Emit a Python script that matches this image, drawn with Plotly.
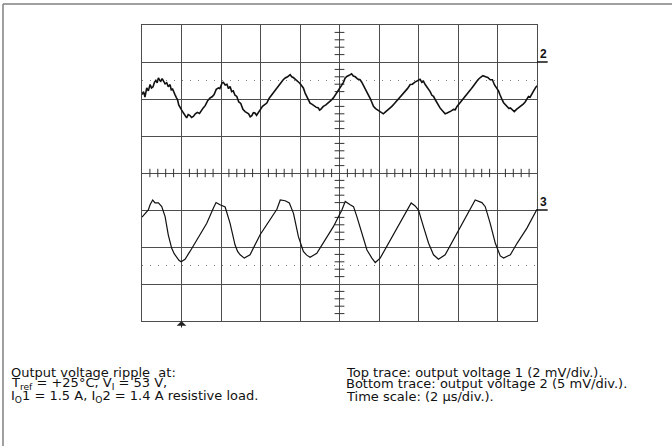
import numpy as np
import plotly.graph_objects as go

# Time axis in microseconds (2 us/div, 10 divisions); vertical axis in screen divisions (8 div)
top_t = [0.0, 0.08, 0.15, 0.24, 0.32, 0.41, 0.48, 0.56, 0.63, 0.70, 0.77, 0.83, 0.90, 0.95, 1.02, 1.08, 1.17,
         1.25, 1.33, 1.42, 1.48, 1.55, 1.61, 1.67, 1.74, 1.80, 1.86, 1.93, 2.01, 2.10, 2.18, 2.26,
         2.34, 2.42, 2.51, 2.60, 2.70, 2.80, 2.91, 3.02, 3.10, 3.20, 3.32, 3.45, 3.55, 3.65, 3.76, 3.87, 3.94,
         4.00, 4.06, 4.12, 4.21, 4.30, 4.38, 4.46, 4.54, 4.62, 4.71, 4.80, 4.90, 5.00, 5.11, 5.22, 5.31, 5.40,
         5.48, 5.56, 5.64, 5.72, 5.80, 5.89, 6.00, 6.10, 6.21, 6.32, 6.44, 6.55, 6.69, 6.83, 6.94, 7.05, 7.15,
         7.25, 7.37, 7.50, 7.58, 7.66, 7.75, 7.84, 7.92, 8.00, 8.08, 8.17, 8.26, 8.35, 8.43, 8.51, 8.60, 8.70,
         8.81, 8.93, 8.99, 9.05, 9.11, 9.18, 9.31, 9.45, 9.57, 9.69, 9.77, 9.85, 9.94, 10.03, 10.11, 10.20,
         10.28, 10.37, 10.49, 10.61, 10.70, 10.80, 10.92, 11.04, 11.12, 11.20, 11.29, 11.38, 11.46, 11.55,
         11.63, 11.72, 11.83, 11.95, 12.08, 12.22, 12.33, 12.45, 12.55, 12.65, 12.75, 12.85, 12.96, 13.07,
         13.18, 13.30, 13.44, 13.58, 13.69, 13.80, 13.90, 14.00, 14.08, 14.17, 14.25, 14.34, 14.42, 14.50,
         14.59, 14.68, 14.76, 14.85, 14.93, 15.01, 15.09, 15.18, 15.26, 15.35, 15.45, 15.55, 15.66, 15.77,
         15.86, 15.95, 16.03, 16.11, 16.23, 16.35, 16.48, 16.62, 16.76, 16.90, 17.01, 17.13, 17.26, 17.40,
         17.51, 17.63, 17.74, 17.85, 17.95, 18.05, 18.12, 18.18, 18.25, 18.31, 18.40, 18.50, 18.58, 18.65,
         18.75, 18.85, 18.96, 19.07, 19.18, 19.30, 19.40, 19.49, 19.57, 19.65, 19.74, 19.83, 19.92, 20.0]
top_v = [2.12, 2.20, 2.05, 2.30, 2.22, 2.39, 2.30, 2.33, 2.45, 2.50, 2.44, 2.57, 2.50, 2.48, 2.55, 2.50, 2.41,
         2.44, 2.33, 2.39, 2.25, 2.27, 2.16, 2.12, 2.04, 1.98, 1.84, 1.76, 1.70, 1.62, 1.55, 1.49,
         1.58, 1.56, 1.50, 1.53, 1.60, 1.64, 1.61, 1.71, 1.76, 1.82, 1.95, 2.03, 2.06, 2.12, 2.26, 2.30, 2.28,
         2.36, 2.44, 2.45, 2.38, 2.40, 2.28, 2.34, 2.20, 2.22, 2.10, 2.07, 1.92, 1.88, 1.72, 1.66, 1.62, 1.60,
         1.52, 1.55, 1.63, 1.62, 1.56, 1.62, 1.72, 1.80, 1.84, 1.89, 2.02, 2.10, 2.18, 2.30, 2.36, 2.44, 2.52,
         2.57, 2.60, 2.66, 2.60, 2.58, 2.54, 2.52, 2.46, 2.42, 2.36, 2.30, 2.16, 2.05, 1.98, 1.89, 1.86, 1.82,
         1.78, 1.76, 1.70, 1.72, 1.77, 1.80, 1.84, 1.90, 1.96, 2.03, 2.10, 2.15, 2.24, 2.34, 2.38, 2.45,
         2.56, 2.61, 2.64, 2.68, 2.62, 2.60, 2.54, 2.52, 2.46, 2.38, 2.30, 2.21, 2.14, 2.02, 1.92,
         1.80, 1.74, 1.70, 1.64, 1.60, 1.65, 1.70, 1.74, 1.80, 1.86, 1.92, 2.00, 2.07, 2.12,
         2.20, 2.28, 2.39, 2.40, 2.45, 2.48, 2.50, 2.53, 2.45, 2.48, 2.39, 2.33, 2.24, 2.20,
         2.10, 2.07, 1.98, 1.90, 1.82, 1.76, 1.70, 1.66, 1.60, 1.62, 1.66, 1.68, 1.72, 1.71,
         1.80, 1.85, 1.92, 1.98, 2.06, 2.15, 2.24, 2.34, 2.45, 2.52, 2.58, 2.63, 2.60, 2.58,
         2.52, 2.52, 2.38, 2.30, 2.22, 2.12, 2.02, 1.96, 1.90, 1.85, 1.80, 1.74, 1.76, 1.71,
         1.66, 1.72, 1.76, 1.80, 1.86, 1.92, 2.00, 2.07, 2.05, 2.15, 2.22, 2.30, 2.36, 2.43]

bot_t = [0.0, 0.15, 0.32, 0.41, 0.54, 0.66, 0.83, 1.00, 1.17, 1.33, 1.50, 1.63, 1.76, 1.87, 1.98, 2.18, 2.43,
         2.85, 3.28, 3.61, 3.75, 3.95, 4.21, 4.46, 4.71, 4.84, 4.97, 5.18, 5.47, 5.98, 6.49, 6.83, 7.00, 7.25,
         7.46, 7.67, 7.92, 8.17, 8.34, 8.51, 8.85, 9.27, 9.69, 10.12, 10.29, 10.54, 10.71, 10.88, 11.13, 11.39,
         11.64, 11.81, 12.06, 12.48, 12.99, 13.41, 13.63, 13.83, 14.00, 14.25, 14.51, 14.76, 14.89, 15.01,
         15.35, 15.86, 16.37, 16.71, 16.87, 17.21, 17.38, 17.63, 17.89, 18.14, 18.31, 18.65, 18.99, 19.49,
         19.91, 20.0]
bot_v = [-1.19, -1.09, -1.00, -0.86, -0.73, -0.81, -0.81, -0.91, -1.18, -1.67, -2.03, -2.18, -2.28, -2.36,
         -2.40, -2.33, -2.12, -1.76, -1.36, -0.95, -0.80, -0.86, -0.92, -1.36, -1.94, -2.12, -2.21, -2.30,
         -2.21, -1.67, -1.27, -0.98, -0.73, -0.75, -0.81, -1.09, -1.72, -2.12, -2.22, -2.28, -2.17, -1.81,
         -1.45, -1.00, -0.77, -0.86, -0.91, -1.18, -1.63, -2.08, -2.30, -2.42, -2.30, -1.90, -1.40, -1.00,
         -0.81, -0.89, -1.00, -1.45, -1.90, -2.21, -2.28, -2.33, -2.21, -1.72, -1.22, -0.91, -0.73, -0.80,
         -0.91, -1.36, -1.90, -2.24, -2.30, -2.21, -1.90, -1.49, -1.04, -0.98]

ref_levels = [2.5, -2.5]           # dotted reference levels (div)
channel_labels = ["2", "3"]
channel_marks = [3.0, -1.0]        # channel marker levels (div)
trigger_t = 2.0                    # trigger position (us)

left_lines = ["Output voltage ripple&nbsp;&nbsp;at:",
              "T<sub>ref</sub> = +25°C, V<sub>I</sub> = 53 V,",
              "I<sub>O</sub>1 = 1.5 A, I<sub>O</sub>2 = 1.4 A resistive load."]
right_lines = ["Top trace: output voltage 1 (2 mV/div.).",
               "Bottom trace: output voltage 2 (5 mV/div.).",
               "Time scale: (2 µs/div.)."]

GRID = "#4d4d4d"
FONT = "Liberation Sans, Arial, sans-serif"
TFONT = "DejaVu Sans, Liberation Sans, sans-serif"

W, H = 672, 446
ML, MR, MT, MB = 142, 135, 25, 125
PW, PH = W - ML - MR, H - MT - MB


def px(xp):
    return (xp - ML) / PW


def py(yp):
    return (H - MB - yp) / PH


fig = go.Figure()

# graticule minor ticks on centre lines
xt = [v for v in np.arange(0.4, 20.0, 0.4) if abs(v / 2 - round(v / 2)) > 1e-6]
yt = [v for v in np.arange(-3.8, 4.0, 0.2) if abs(v - round(v)) > 1e-6]
fig.add_trace(go.Scatter(x=xt, y=[0] * len(xt), mode="markers", hoverinfo="skip",
                         marker=dict(symbol="line-ns", size=6, line=dict(color="#333", width=1))))
fig.add_trace(go.Scatter(x=[10] * len(yt), y=yt, mode="markers", hoverinfo="skip",
                         marker=dict(symbol="line-ew", size=7, line=dict(color="#333", width=1))))

fig.add_trace(go.Scatter(x=top_t, y=top_v, mode="lines", line=dict(color="#111", width=1.6)))
fig.add_trace(go.Scatter(x=bot_t, y=bot_v, mode="lines", line=dict(color="#111", width=1.2)))

for lv in ref_levels:
    fig.add_shape(type="line", xref="x", yref="y", x0=0, x1=20, y0=lv, y1=lv,
                  line=dict(color="#808080", width=1, dash="1px,7px"))

for lab, lv in zip(channel_labels, channel_marks):
    fig.add_annotation(x=20, y=lv, xref="x", yref="y", text="<b>" + lab + "</b>", showarrow=False,
                       xanchor="left", yanchor="bottom", xshift=1, yshift=-1,
                       font=dict(family=FONT, size=12, color="#111"))
    fig.add_shape(type="line", xref="paper", yref="y", x0=1.0, x1=1.027, y0=lv, y1=lv,
                  line=dict(color="#111", width=1.5))

# trigger arrow
fig.add_annotation(x=trigger_t, y=-4, xref="x", yref="y", text="", showarrow=True, ax=0, ay=8,
                   arrowhead=1, arrowsize=1.6, arrowwidth=1, arrowcolor="#222")

# outer frame (top and left only)
fig.add_shape(type="line", xref="paper", yref="paper", x0=px(3), x1=px(680), y0=py(4), y1=py(4),
              line=dict(color="#808080", width=1.5))
fig.add_shape(type="line", xref="paper", yref="paper", x0=px(3), x1=px(3), y0=py(4), y1=py(450),
              line=dict(color="#808080", width=1.5))

ys = [372, 384, 396]
for i, t in enumerate(left_lines):
    fig.add_annotation(x=px(9), y=py(ys[i]), xref="paper", yref="paper", text=t,
                       showarrow=False, xanchor="left", yanchor="middle",
                       font=dict(family=TFONT, size=13, color="#111"))
for i, t in enumerate(right_lines):
    fig.add_annotation(x=px(344), y=py(ys[i]), xref="paper", yref="paper", text=t,
                       showarrow=False, xanchor="left", yanchor="middle",
                       font=dict(family=TFONT, size=13, color="#111"))

fig.update_xaxes(range=[0, 20], dtick=2, showgrid=True, gridcolor=GRID, gridwidth=1, zeroline=False,
                 showline=True, mirror=True, linecolor=GRID, linewidth=1, showticklabels=False, ticks="")
fig.update_yaxes(range=[-4, 4], dtick=1, showgrid=True, gridcolor=GRID, gridwidth=1, zeroline=False,
                 showline=True, mirror=True, linecolor=GRID, linewidth=1, showticklabels=False, ticks="")
fig.update_layout(width=W, height=H, margin=dict(l=ML, r=MR, t=MT, b=MB),
                  paper_bgcolor="white", plot_bgcolor="white", showlegend=False, hovermode=False)

fig.write_html("out.html", config={"displayModeBar": False},
               post_script="document.body.style.margin='0';")
